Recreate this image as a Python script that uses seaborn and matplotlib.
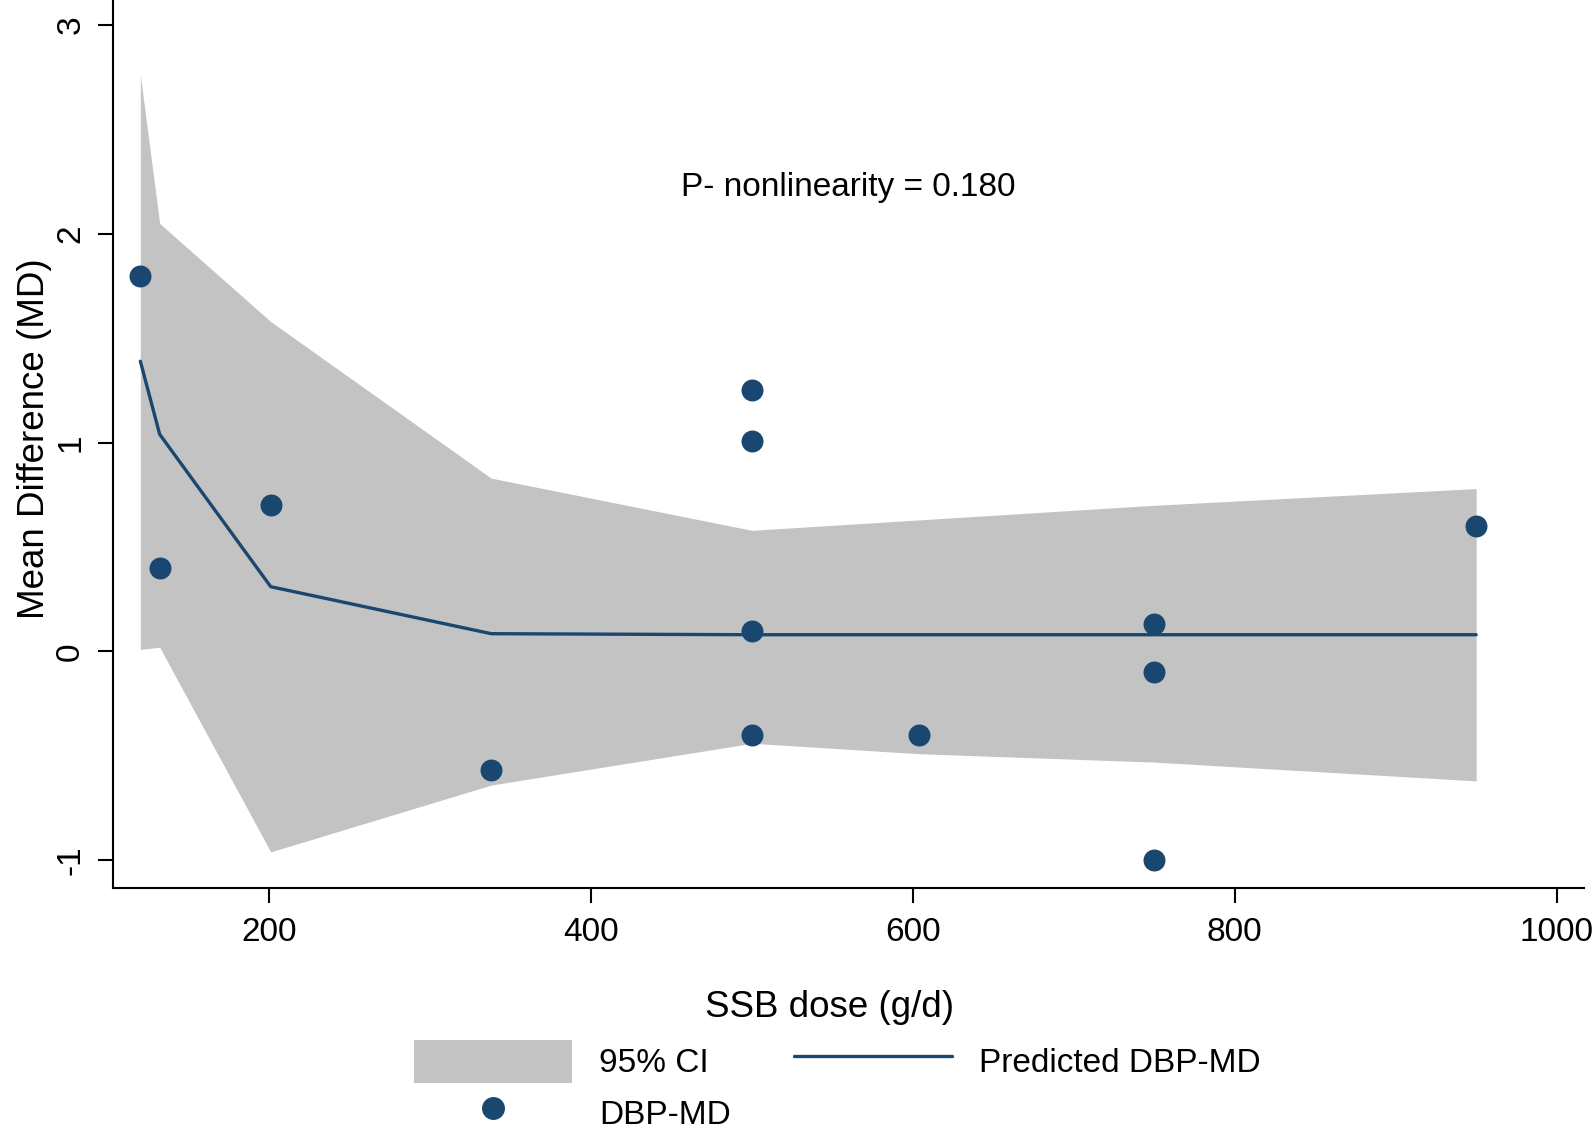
import numpy as np
import pandas as pd
import seaborn as sns
import matplotlib.pyplot as plt
from matplotlib.patches import Patch
from matplotlib.lines import Line2D

sns.set_theme(style="ticks")
plt.rcParams["font.family"] = ["Liberation Sans", "DejaVu Sans"]
plt.rcParams["axes.unicode_minus"] = False
plt.rcParams.update({"text.color": "black", "axes.labelcolor": "black",
                     "xtick.color": "black", "ytick.color": "black"})

# observed study estimates
dose = [120, 132, 201, 338, 500, 500, 500, 500, 604, 750, 750, 750, 950]
md = [1.80, 0.40, 0.70, -0.57, 1.25, 1.01, 0.10, -0.40, -0.40, 0.13, -0.10, -1.00, 0.60]

# fitted curve and 95% CI
fit_dose = [120, 132, 201, 338, 500, 604, 750, 950]
fit_md = [1.39, 1.04, 0.31, 0.085, 0.08, 0.08, 0.08, 0.08]
ci_lo = [0.01, 0.02, -0.96, -0.64, -0.44, -0.49, -0.53, -0.62]
ci_hi = [2.76, 2.05, 1.58, 0.83, 0.58, 0.63, 0.70, 0.78]

navy = "#1a476f"
grey = "#c3c3c3"

pts = pd.DataFrame({"dose": dose, "md": md})
fit = pd.DataFrame({"dose": fit_dose, "md": fit_md, "lo": ci_lo, "hi": ci_hi})

fig = plt.figure(figsize=(15.94, 11.31), dpi=100)
ax = fig.add_axes([113 / 1594, 1 - 888 / 1131, (1584 - 113) / 1594, 888 / 1131])

ax.fill_between(fit.dose, fit.lo, fit.hi, color=grey, lw=0)
sns.lineplot(ax=ax, data=fit, x="dose", y="md", color=navy, lw=2.4)
sns.scatterplot(ax=ax, data=pts, x="dose", y="md", color=navy, s=250,
                edgecolor=navy, linewidth=0, zorder=3)

ax.set_xlim(103, 1017)
ax.set_ylim(-1.133, 3.12)
ax.set_xticks([200, 400, 600, 800, 1000])
ax.set_yticks([-1, 0, 1, 2, 3])
sns.despine(ax=ax)
for s in ["left", "bottom"]:
    ax.spines[s].set_linewidth(1.5)
    ax.spines[s].set_color("black")
ax.tick_params(axis="both", length=10.8, width=1.5, labelsize=24, color="black")
ax.tick_params(axis="x", pad=10)
ax.tick_params(axis="y", pad=8.5)
plt.setp(ax.get_yticklabels(), rotation=90, va="center")

ax.set_xlabel("SSB dose (g/d)", fontsize=26.5, labelpad=30)
ax.set_ylabel("Mean Difference (MD)", fontsize=26.5, labelpad=2)
ax.xaxis.label.set_x(0.487)
ax.yaxis.label.set_y(0.506)

ax.text(560, 2.22, "P- nonlinearity = 0.180", fontsize=24, ha="center", va="center")

handles = [Patch(facecolor=grey, edgecolor="none"),
           Line2D([], [], marker="o", ls="", color=navy, markersize=15.5),
           Line2D([], [], color=navy, lw=2.4)]
labels = ["95% CI", "DBP-MD", "Predicted DBP-MD"]
fig.legend(handles, labels, loc="upper left", bbox_to_anchor=(414 / 1594, 1 - 1040 / 1131),
           ncol=2, frameon=False, fontsize=24, handlelength=4.75, handleheight=1.6,
           handletextpad=0.8, columnspacing=1.9, labelspacing=0.28,
           borderpad=0, borderaxespad=0)

fig.savefig("out.png", dpi=100)
